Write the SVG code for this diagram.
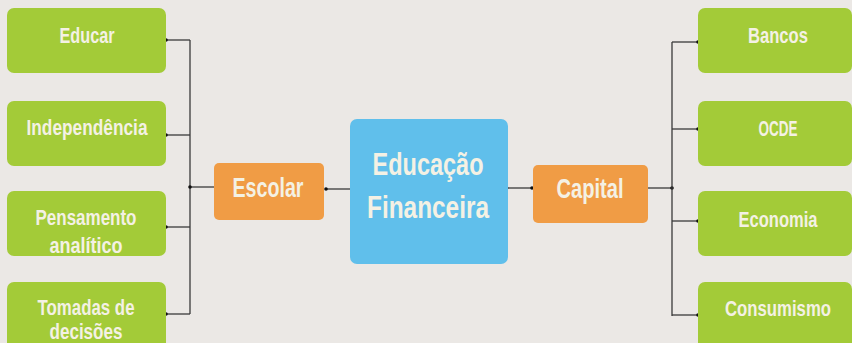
<svg xmlns="http://www.w3.org/2000/svg" width="852" height="343" viewBox="0 0 852 343">
<style>
.bg{fill:#ebe8e5}
.g{fill:#a3cb38}
.o{fill:#f09c45}
.b{fill:#60bfeb}
.t{font-family:"Liberation Sans","DejaVu Sans",sans-serif;font-weight:bold;fill:#f4f1e4;text-anchor:middle}
.s{font-size:22px}
.m{font-size:27px}
.l{font-size:31px}
.c{fill:none;stroke:#3a3a3a;stroke-width:1.3}
</style>
<defs>
<marker id="dot" markerWidth="4" markerHeight="4" refX="2" refY="2" markerUnits="userSpaceOnUse"><circle cx="2" cy="2" r="1.8" fill="#111"/></marker>
</defs>
<rect class="bg" width="852" height="343"/>
<g id="connectors">
<path class="c" d="M190 40 V314"/>
<path class="c" d="M190 40 H166" marker-end="url(#dot)"/>
<path class="c" d="M190 135 H166" marker-end="url(#dot)"/>
<path class="c" d="M190 227 H166" marker-end="url(#dot)"/>
<path class="c" d="M190 314 H166" marker-end="url(#dot)"/>
<path class="c" d="M214 187 H190" marker-end="url(#dot)"/>
<path class="c" d="M350 189 H326" marker-end="url(#dot)"/>
<path class="c" d="M508 188 H532" marker-end="url(#dot)"/>
<path class="c" d="M648 188 H672" marker-end="url(#dot)"/>
<path class="c" d="M672 42 V316"/>
<path class="c" d="M672 42 H698" marker-end="url(#dot)"/>
<path class="c" d="M672 129 H698" marker-end="url(#dot)"/>
<path class="c" d="M672 221 H698" marker-end="url(#dot)"/>
<path class="c" d="M672 315 H698" marker-end="url(#dot)"/>
</g>
<g id="educar"><rect class="g" x="7" y="8" width="159" height="65" rx="7"/><text class="t s" x="87" y="43" textLength="55" lengthAdjust="spacingAndGlyphs">Educar</text></g>
<g id="independencia"><rect class="g" x="7" y="101" width="159" height="65" rx="7"/><text class="t s" x="87" y="135" textLength="121" lengthAdjust="spacingAndGlyphs">Independência</text></g>
<g id="pensamento"><rect class="g" x="7" y="191" width="159" height="65" rx="7"/><text class="t s" x="86" y="225" textLength="101" lengthAdjust="spacingAndGlyphs">Pensamento</text><text class="t s" x="86" y="253" textLength="73" lengthAdjust="spacingAndGlyphs">analítico</text></g>
<g id="tomadas"><path class="g" d="M14 282 H159 A7 7 0 0 1 166 289 V343 H7 V289 A7 7 0 0 1 14 282 Z"/><text class="t s" x="86" y="315" textLength="97" lengthAdjust="spacingAndGlyphs">Tomadas de</text><text class="t s" x="86" y="339" textLength="73" lengthAdjust="spacingAndGlyphs">decisões</text></g>
<g id="escolar"><rect class="o" x="214" y="163" width="110" height="57" rx="5"/><text class="t m" x="268" y="197" textLength="71" lengthAdjust="spacingAndGlyphs">Escolar</text></g>
<g id="educacao"><rect class="b" x="350" y="119" width="158" height="145" rx="7"/><text class="t l" x="428" y="175" textLength="111" lengthAdjust="spacingAndGlyphs">Educação</text><text class="t l" x="428" y="218" textLength="122" lengthAdjust="spacingAndGlyphs">Financeira</text></g>
<g id="capital"><rect class="o" x="533" y="165" width="115" height="58" rx="5"/><text class="t m" x="590" y="198" textLength="67" lengthAdjust="spacingAndGlyphs">Capital</text></g>
<g id="bancos"><rect class="g" x="698" y="8" width="154" height="65" rx="7"/><text class="t s" x="778" y="43" textLength="60" lengthAdjust="spacingAndGlyphs">Bancos</text></g>
<g id="ocde"><rect class="g" x="698" y="101" width="154" height="65" rx="7"/><text class="t s" x="778" y="136" textLength="39" lengthAdjust="spacingAndGlyphs">OCDE</text></g>
<g id="economia"><rect class="g" x="698" y="191" width="154" height="65" rx="7"/><text class="t s" x="778" y="227" textLength="79" lengthAdjust="spacingAndGlyphs">Economia</text></g>
<g id="consumismo"><path class="g" d="M705 282 H845 A7 7 0 0 1 852 289 V343 H698 V289 A7 7 0 0 1 705 282 Z"/><text class="t s" x="778" y="316" textLength="106" lengthAdjust="spacingAndGlyphs">Consumismo</text></g>
</svg>
